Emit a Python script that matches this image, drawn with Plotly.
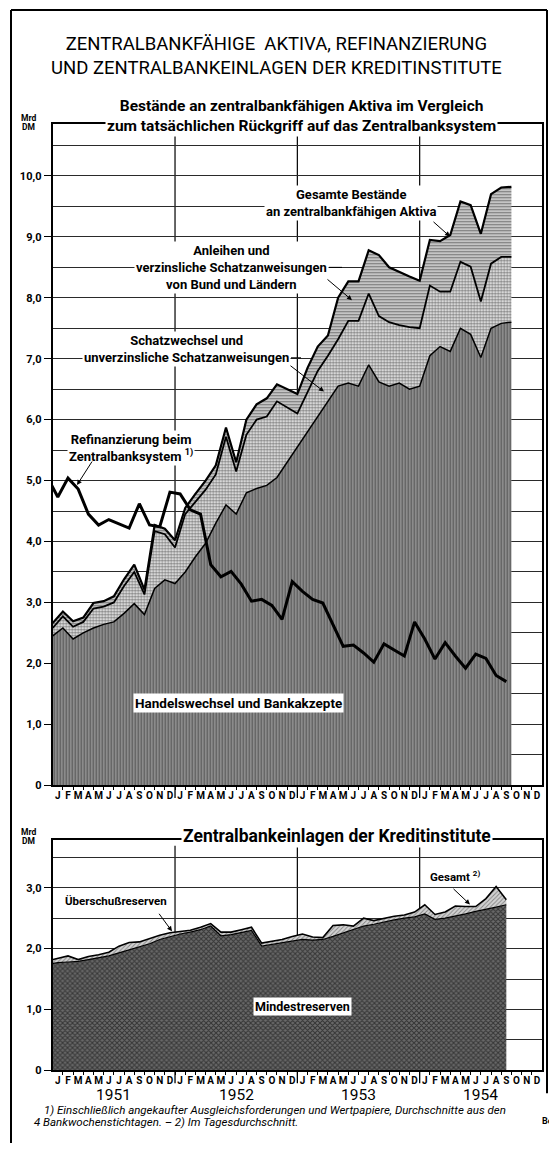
import plotly.graph_objects as go

# ---------------- data ----------------
months = ["J", "F", "M", "A", "M", "J", "J", "A", "S", "O", "N", "D"]
years = ["1951", "1952", "1953", "1954"]

# Bestände (month-end values), end Dec 1950 ... end Sep 1954, Mrd DM
handelswechsel = [2.45, 2.58, 2.40, 2.50, 2.58, 2.64, 2.68, 2.82, 2.98, 2.80, 3.23, 3.37,
                  3.31, 3.50, 3.75, 3.97, 4.30, 4.60, 4.45, 4.80, 4.87, 4.92, 5.05, 5.30,
                  5.55, 5.80, 6.05, 6.30, 6.55, 6.60, 6.55, 6.90, 6.62, 6.55, 6.60, 6.50,
                  6.55, 7.05, 7.20, 7.12, 7.50, 7.40, 7.02, 7.50, 7.58, 7.60]
schatzwechsel = [0.13, 0.19, 0.20, 0.18, 0.32, 0.29, 0.32, 0.45, 0.52, 0.33, 0.94, 0.75,
                 0.59, 0.95, 0.90, 0.88, 0.80, 1.12, 0.70, 0.95, 1.13, 1.13, 1.25, 0.90,
                 0.55, 0.65, 0.75, 0.75, 0.77, 1.02, 1.07, 1.17, 1.08, 1.05, 0.95, 1.02,
                 0.95, 1.15, 0.90, 0.98, 1.09, 1.11, 0.92, 1.06, 1.09, 1.07]
anleihen = [0.08, 0.08, 0.09, 0.07, 0.09, 0.09, 0.10, 0.11, 0.12, 0.08, 0.10, 0.09,
            0.12, 0.10, 0.13, 0.15, 0.15, 0.15, 0.15, 0.25, 0.25, 0.30, 0.28, 0.30,
            0.32, 0.40, 0.40, 0.33, 0.68, 0.65, 0.65, 0.71, 1.00, 0.90, 0.87, 0.83,
            0.78, 0.75, 0.83, 0.93, 0.99, 1.01, 1.11, 1.14, 1.14, 1.15]
# Refinanzierung beim Zentralbanksystem (monthly averages), Dec 1950 ... Sep 1954
refinanzierung = [5.05, 4.73, 5.04, 4.86, 4.45, 4.27, 4.36, 4.29, 4.22, 4.62, 4.27, 4.24,
                  4.81, 4.78, 4.52, 4.45, 3.62, 3.42, 3.51, 3.30, 3.02, 3.05, 2.95, 2.72,
                  3.34, 3.18, 3.05, 2.99, 2.62, 2.28, 2.30, 2.17, 2.02, 2.32, 2.22, 2.12,
                  2.68, 2.40, 2.07, 2.34, 2.12, 1.92, 2.15, 2.08, 1.80, 1.70]
# Zentralbankeinlagen (daily averages), Dec 1950 ... Sep 1954
mindestreserven = [1.74, 1.77, 1.78, 1.79, 1.82, 1.85, 1.88, 1.93, 1.98, 2.03, 2.08, 2.15,
                   2.20, 2.24, 2.27, 2.31, 2.37, 2.21, 2.23, 2.26, 2.30, 2.04, 2.07, 2.10,
                   2.13, 2.15, 2.14, 2.15, 2.20, 2.26, 2.32, 2.37, 2.40, 2.44, 2.47, 2.50,
                   2.52, 2.57, 2.48, 2.50, 2.53, 2.57, 2.61, 2.64, 2.68, 2.72]
ueberschuss = [0.06, 0.07, 0.10, 0.03, 0.05, 0.05, 0.06, 0.11, 0.12, 0.08, 0.09, 0.07,
               0.06, 0.04, 0.03, 0.04, 0.04, 0.06, 0.04, 0.05, 0.05, 0.05, 0.05, 0.05,
               0.07, 0.09, 0.05, 0.03, 0.18, 0.13, 0.05, 0.13, 0.06, 0.06, 0.06, 0.05,
               0.08, 0.15, 0.08, 0.10, 0.17, 0.12, 0.08, 0.18, 0.34, 0.08]

# positions on the month axis (0 = start of Jan 1951)
x_end = list(range(len(handelswechsel)))               # month ends
x_mid = [i - 0.5 for i in range(len(refinanzierung))]  # month centres
n_months = 12 * len(years)

# ---------------- geometry ----------------
W, H = 549, 1150
X0, X1 = 52.7, 542.0
T0, T1 = 790.0, 125.0
B0, B1 = 1077.0, 845.0
UNIT = 61.3
FONT = "Roboto"


def px(x):
    return x / W


def py(y):
    return 1 - y / H


def xpaper(v):
    return px(X0 + (X1 - X0) * v / n_months)


fig = go.Figure()

common = dict(mode="lines", hoverinfo="skip", showlegend=False)
fig.add_trace(go.Scatter(x=x_end, y=handelswechsel, stackgroup="top", xaxis="x", yaxis="y",
                         line=dict(color="black", width=1.5),
                         fillpattern=dict(shape="|", size=3, solidity=0.45,
                                          fgcolor="#1c1c1c", bgcolor="#959595"), **common))
fig.add_trace(go.Scatter(x=x_end, y=schatzwechsel, stackgroup="top", xaxis="x", yaxis="y",
                         line=dict(color="black", width=1.8),
                         fillpattern=dict(shape=".", size=3, solidity=0.6,
                                          fgcolor="black", bgcolor="white"), **common))
fig.add_trace(go.Scatter(x=x_end, y=anleihen, stackgroup="top", xaxis="x", yaxis="y",
                         line=dict(color="black", width=2.2),
                         fillpattern=dict(shape="-", size=3, solidity=0.4,
                                          fgcolor="#222222", bgcolor="#cccccc"), **common))
fig.add_trace(go.Scatter(x=x_mid, y=refinanzierung, xaxis="x", yaxis="y",
                         line=dict(color="black", width=3), **common))

fig.add_trace(go.Scatter(x=x_mid, y=mindestreserven, stackgroup="bot", xaxis="x2", yaxis="y2",
                         line=dict(color="black", width=1.2),
                         fillpattern=dict(shape="x", size=3.5, solidity=0.5,
                                          fgcolor="#000000", bgcolor="#6a6a6a"), **common))
fig.add_trace(go.Scatter(x=x_mid, y=ueberschuss, stackgroup="bot", xaxis="x2", yaxis="y2",
                         line=dict(color="black", width=1.6),
                         fillpattern=dict(shape="/", size=3, solidity=0.3,
                                          fgcolor="#333333", bgcolor="#d2d2d2"), **common))

month_centres = [i + 0.5 for i in range(n_months)]
month_text = months * len(years)
boundaries = list(range(1, n_months))


def xaxis_cfg(anchor):
    return dict(domain=[px(X0), px(X1)], range=[0, n_months], anchor=anchor,
                tickmode="array", tickvals=month_centres, ticktext=month_text, ticks="",
                tickfont=dict(family=FONT, size=10, color="black", weight="bold"),
                showline=True, linecolor="black", linewidth=2, mirror=True,
                showgrid=False, zeroline=False, fixedrange=True,
                minor=dict(tickmode="array", tickvals=boundaries, ticks="outside",
                           ticklen=3, tickwidth=1, tickcolor="black", showgrid=False))


def yaxis_cfg(anchor, y0, y1, top_val):
    ymax = (y0 - y1) / UNIT
    major = list(range(0, int(top_val) + 1))
    labels = ["0"] + [f"{v},0" for v in major[1:]]
    halves = [v + 0.5 for v in range(0, int(ymax + 0.5))]
    return dict(domain=[py(y0), py(y1)], range=[0, ymax], anchor=anchor,
                tickmode="array", tickvals=major, ticktext=labels,
                ticks="outside", ticklen=7, tickwidth=1, tickcolor="black",
                tickfont=dict(family=FONT, size=11, color="black", weight="bold"),
                showgrid=True, gridcolor="#2a2a2a", gridwidth=0.9,
                minor=dict(tickmode="array", tickvals=halves, showgrid=True,
                           gridcolor="#2a2a2a", gridwidth=0.9, ticks=""),
                showline=True, linecolor="black", linewidth=2, mirror=True,
                zeroline=False, fixedrange=True)


shapes = []
# year separators
for b in (12, 24, 36):
    for (y0, y1) in ((T0, 131), (B0, 851)):
        shapes.append(dict(type="line", xref="paper", yref="paper", x0=xpaper(b), x1=xpaper(b),
                           y0=py(y0), y1=py(y1), layer="below", line=dict(color="black", width=1.2)))
        shapes.append(dict(type="line", xref="paper", yref="paper", x0=xpaper(b), x1=xpaper(b),
                           y0=py(y0), y1=py(y0 + 13), layer="above", line=dict(color="black", width=1.3)))
# page border
for (xa, ya, xb, yb) in ((11, 10, 547, 10), (11, 10, 11, 1150), (547, 10, 547, 1100)):
    shapes.append(dict(type="line", xref="paper", yref="paper", x0=px(xa), x1=px(xb),
                       y0=py(ya), y1=py(yb), line=dict(color="black", width=2)))
# small leader dashes
for (xa, ya, xb, yb) in ((329, 269, 342, 269), (291, 360, 301, 360)):
    shapes.append(dict(type="line", xref="paper", yref="paper", x0=px(xa), x1=px(xb),
                       y0=py(ya), y1=py(yb), line=dict(color="black", width=1)))

ann = []


def text(x, y, s, size=13, bold=True, bg=None, xanchor="center", family=FONT):
    d = dict(x=px(x), y=py(y), xref="paper", yref="paper", text=s, showarrow=False,
             xanchor=xanchor, yanchor="middle", align="center" if xanchor == "center" else "left",
             font=dict(family=family, size=size, color="black", weight="bold" if bold else "normal"))
    if bg:
        d.update(bgcolor=bg, borderpad=1)
    ann.append(d)


def arrow(tx, ty, hx, hy):
    ann.append(dict(x=px(hx), y=py(hy), xref="paper", yref="paper", text="", showarrow=True,
                    ax=tx - hx, ay=ty - hy, axref="pixel", ayref="pixel",
                    arrowhead=2, arrowsize=1, arrowwidth=1, arrowcolor="black"))


text(276, 56, "ZENTRALBANKFÄHIGE  AKTIVA, REFINANZIERUNG<br>UND ZENTRALBANKEINLAGEN DER KREDITINSTITUTE",
     size=18.5, bold=False)
text(301, 116.5, "Bestände an zentralbankfähigen Aktiva im Vergleich<br>zum tatsächlichen Rückgriff auf das Zentralbanksystem",
     size=15.5, bold=True, bg="white")
text(337, 841, "Zentralbankeinlagen der Kreditinstitute", size=17.5, bold=True, bg="white")

text(28, 119, "Mrd", size=8.5)
text(28, 128, "DM", size=8.5)
text(28, 837, "Mrd", size=8.5)
text(28, 846, "DM", size=8.5)

text(351, 204.5, "Gesamte Bestände<br>an zentralbankfähigen Aktiva", bg="white")
arrow(432, 222, 450, 238)
text(231, 269.5, "Anleihen und<br>verzinsliche Schatzanweisungen<br>von Bund und Ländern", bg="white")
arrow(326, 280, 352, 302)
text(186, 351.5, "Schatzwechsel und<br>unverzinsliche Schatzanweisungen", bg="white")
arrow(289, 367, 324, 394)
text(131, 450.5, "Refinanzierung beim<br>Zentralbanksystem <sup>1)</sup>", bg="white")
arrow(93, 463, 77, 488)
text(238, 707, "Handelswechsel und Bankakzepte", size=13.5, bg="white")

text(116, 907, "Überschußreserven", size=11.5, bg="white")
arrow(158, 918, 172, 937)
text(455, 882, "Gesamt <sup>2)</sup>", size=11.5, bg="white")
arrow(452, 893, 470, 910)
text(303, 1013, "Mindestreserven", size=12.5, bg="white")

for i, yr in enumerate(years):
    ann.append(dict(x=xpaper(12 * i + 6), y=py(1102), xref="paper", yref="paper", text=yr,
                    showarrow=False, xanchor="center", yanchor="middle",
                    font=dict(family=FONT, size=15.5, color="black")))

text(42, 1117, "<i>1) Einschließlich angekaufter Ausgleichsforderungen und Wertpapiere, Durchschnitte aus den</i>",
     size=11.5, bold=False, xanchor="left")
text(32, 1129, "<i>4 Bankwochenstichtagen. – 2) Im Tagesdurchschnitt.</i>", size=11.5, bold=False, xanchor="left")
text(540, 1128, "Be", size=9, xanchor="left")

fig.update_layout(
    width=W, height=H, margin=dict(l=0, r=0, t=0, b=0),
    paper_bgcolor="white", plot_bgcolor="white", showlegend=False,
    xaxis=xaxis_cfg("y"), yaxis=yaxis_cfg("x", T0, T1, 10),
    xaxis2=xaxis_cfg("y2"), yaxis2=yaxis_cfg("x2", B0, B1, 3),
    shapes=shapes, annotations=ann,
)

fig.write_html("out.html", config={"displayModeBar": False},
               post_script="document.body.style.margin='0px';")
